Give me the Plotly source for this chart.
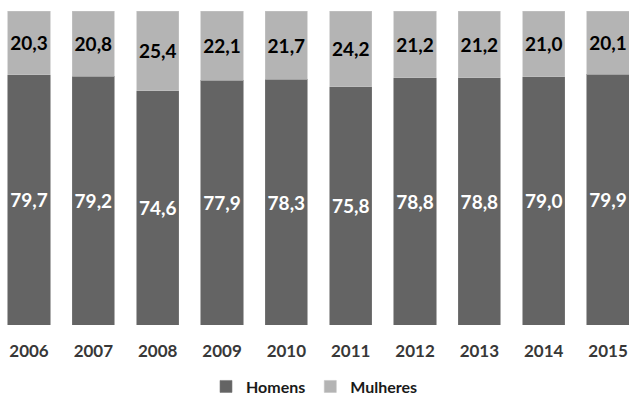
import plotly.graph_objects as go

anos = ["2006", "2007", "2008", "2009", "2010", "2011", "2012", "2013", "2014", "2015"]
homens = [79.7, 79.2, 74.6, 77.9, 78.3, 75.8, 78.8, 78.8, 79.0, 79.9]
mulheres = [20.3, 20.8, 25.4, 22.1, 21.7, 24.2, 21.2, 21.2, 21.0, 20.1]

pos = list(range(len(anos)))


def rotulo(v):
    return f"{v:.1f}".replace(".", ",")


fig = go.Figure()
fig.add_trace(go.Bar(
    x=pos, y=homens, name="Homens",
    marker=dict(color="#646464", line=dict(color="#7a7a7a", width=0.6)),
    text=[rotulo(v) for v in homens], textposition="inside",
    insidetextanchor="middle", textangle=0, constraintext="none",
    textfont=dict(family="Lato", size=19, color="white", weight="bold"),
    width=0.655,
))
fig.add_trace(go.Bar(
    x=pos, y=mulheres, name="Mulheres",
    marker=dict(color="#b4b4b4", line=dict(color="#c4c4c4", width=0.6)),
    text=[rotulo(v) for v in mulheres], textposition="inside",
    insidetextanchor="middle", textangle=0, constraintext="none",
    textfont=dict(family="Lato", size=19, color="black", weight="bold"),
    width=0.655,
))

fig.update_layout(
    barmode="stack",
    width=629, height=399,
    margin=dict(l=0, r=0, t=11, b=74, autoexpand=False),
    paper_bgcolor="white", plot_bgcolor="white",
    uniformtext=dict(mode=False),
    showlegend=True,
    legend=dict(
        orientation="h", x=0.5, xanchor="center", y=-0.196, yanchor="middle",
        font=dict(family="Lato", size=16, color="#1a1a1a", weight="bold"),
        itemwidth=30, traceorder="normal",
    ),
    xaxis=dict(
        range=[-0.451, 9.326], tickvals=pos, ticktext=anos,
        showgrid=False, zeroline=False, showline=False, ticks="",
        ticklabelstandoff=14, automargin=False,
        tickfont=dict(family="Lato", size=17, color="#383838", weight="bold"),
    ),
    yaxis=dict(range=[0, 100], visible=False),
)

fig.write_html("out.html")
